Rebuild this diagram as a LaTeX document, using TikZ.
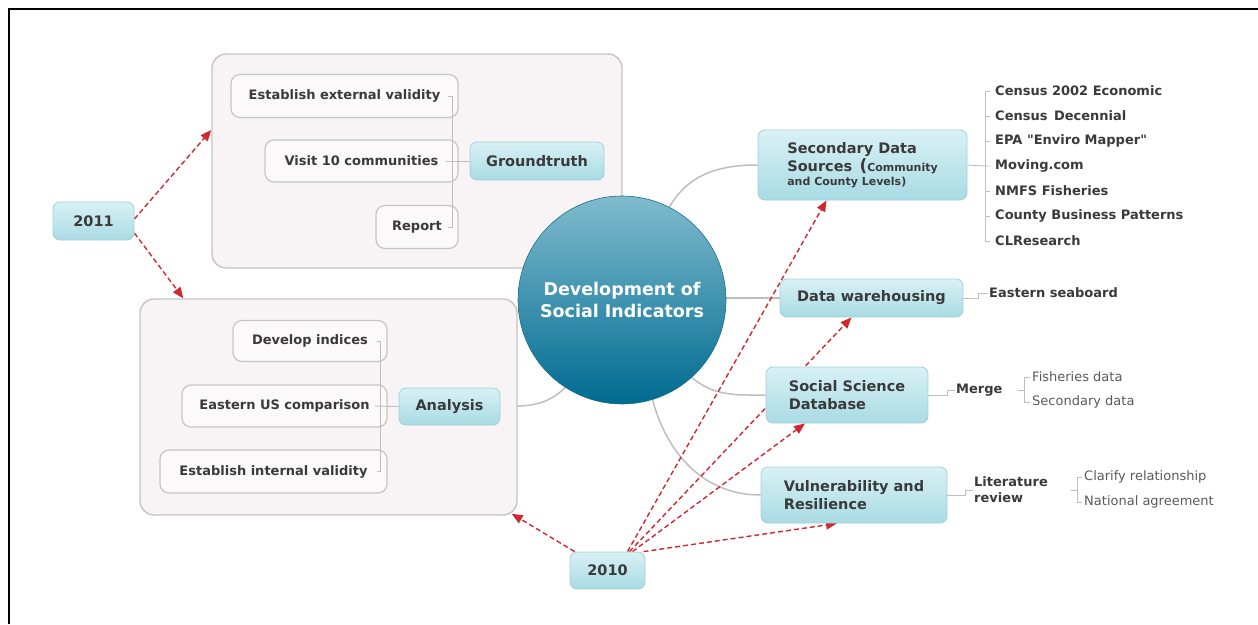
\documentclass[tikz,border=0pt]{standalone}
\usepackage{fontspec}
\setmainfont{DejaVu Sans}[Ligatures=TeXOff]
\usetikzlibrary{arrows.meta,backgrounds}

\definecolor{nodetop}{HTML}{D8F1F5}
\definecolor{nodebot}{HTML}{A9DBE4}
\definecolor{nodeline}{HTML}{A3CFD8}
\definecolor{boxfill}{HTML}{F8F4F5}
\definecolor{leaffill}{HTML}{FBF9F9}
\definecolor{boxline}{HTML}{C6C4C5}
\definecolor{branchgray}{HTML}{BEBEBE}
\definecolor{txt}{HTML}{3A3A3A}
\definecolor{lighttxt}{HTML}{5A5A5A}
\definecolor{timered}{HTML}{D0282E}
\definecolor{hubtop}{HTML}{80BBCE}
\definecolor{hubmid}{HTML}{0E799C}
\definecolor{hubbot}{HTML}{006B90}
\definecolor{hubline}{HTML}{1C6F8B}

\begin{document}
\begin{tikzpicture}[x=1pt,y=1pt,
    topic/.style={draw=nodeline,line width=0.8pt,rounded corners=7pt,top color=nodetop,bottom color=nodebot,text=txt,font=\bfseries\fontsize{14.5}{18}\selectfont,inner sep=0pt},
    group/.style={draw=boxline,line width=1.4pt,rounded corners=14pt,fill=boxfill,inner sep=0pt},
    leaf/.style={draw=boxline,line width=1.2pt,rounded corners=9pt,fill=leaffill,text=txt,font=\bfseries\fontsize{13}{15}\selectfont,inner sep=0pt},
    item/.style={anchor=west,text=txt,font=\bfseries\fontsize{13}{16}\selectfont,inner sep=1pt},
    note/.style={anchor=west,text=lighttxt,font=\fontsize{13}{15}\selectfont,inner sep=1pt},
    branch/.style={draw=branchgray,line width=1.5pt},
    bracket/.style={draw=branchgray,line width=0.9pt},
    timeline/.style={draw=timered,line width=1.4pt,dash pattern=on 5pt off 3pt,-{Triangle[length=11pt,width=9pt]}}]

    \useasboundingbox (0,0) rectangle (1258,-624);
    \draw[line width=2pt] (9,-624) -- (9,-9) -- (1258,-9);

    % groundtruth group
    \node (gtbox) at (417,-161) [group,minimum width=410pt,minimum height=214pt] {};
    \node   (ext) at (344.5,-96) [leaf,minimum width=227pt,minimum height=43pt] {Establish external validity};
    \node   (vis) at (361.5,-161) [leaf,minimum width=193pt,minimum height=42pt] {Visit 10 communities};
    \node   (rep) at (417,-227) [leaf,minimum width=82pt,minimum height=43pt] {Report};
    \node    (gt) at (537,-161) [topic,minimum width=134pt,minimum height=38pt] {Groundtruth};

    \draw[bracket] ([xshift=-11pt]ext.east) -- ([xshift=-6pt]ext.east) -- ([xshift=-6pt]rep.east) -- ([xshift=-11pt]rep.east);
    \draw[bracket] ([xshift=-13pt]vis.east) -- (gt.west);

    % analysis group
    \node (anbox) at (328.5,-407) [group,minimum width=377pt,minimum height=216pt] {};
    \node   (dev) at (310,-341) [leaf,minimum width=154pt,minimum height=41pt] {Develop indices};
    \node   (cmp) at (284.5,-406) [leaf,minimum width=205pt,minimum height=42pt] {Eastern US comparison};
    \node  (intv) at (273.5,-471.5) [leaf,minimum width=227pt,minimum height=43pt] {Establish internal validity};
    \node    (an) at (449.5,-406.5) [topic,minimum width=101pt,minimum height=37pt] {Analysis};

    \draw[bracket] ([xshift=-11pt]dev.east) -- ([xshift=-7pt]dev.east) -- ([xshift=-7pt]intv.east) -- ([xshift=-11pt]intv.east);
    \draw[bracket] ([xshift=-13pt]cmp.east) -- (an.west);

    % central topic
    \node (hub) at (622,-300) [circle,draw=hubline,line width=0.6pt,minimum size=208pt,top color=hubtop,middle color=hubmid,bottom color=hubbot,text=white,font=\bfseries\fontsize{17.5}{22}\selectfont,align=center,inner sep=0pt] {Development of\\Social Indicators};

    % right topics
    \node (sds) at (862.5,-165) [topic,minimum width=209pt,minimum height=70pt,align=left] {Secondary Data\\Sources\enspace{\fontsize{17}{17}\selectfont(}{\fontsize{11}{12}\selectfont Community}\\[-4pt]{\fontsize{11}{12}\selectfont and County Levels)}};
    \node  (dw) at (871.5,-298) [topic,minimum width=183pt,minimum height=38pt] {Data warehousing};
    \node (ssd) at (847,-395) [topic,minimum width=162pt,minimum height=56pt,align=left] {Social Science\\Database};
    \node  (vr) at (854,-495) [topic,minimum width=186pt,minimum height=56pt,align=left] {Vulnerability and\\Resilience};

    \node (src1) at (994,-91) [item] {Census 2002 Economic};
    \node (src2) at (994,-116) [item] {Census\enspace Decennial};
    \node (src3) at (994,-141) [item] {EPA "Enviro Mapper"};
    \node (src4) at (994,-166) [item] {Moving.com};
    \node (src5) at (994,-191) [item] {NMFS Fisheries};
    \node (src6) at (994,-216) [item] {County Business Patterns};
    \node (src7) at (994,-241) [item] {CLResearch};

    \node  (es) at (988,-293) [item] {Eastern seaboard};
    \node  (mg) at (955,-390) [item] {Merge};
    \node  (fd) at (1031,-377) [note] {Fisheries data};
    \node  (sd) at (1031,-402) [note] {Secondary data};
    \node (lit) at (973,-490) [item,align=left] {Literature\\review};
    \node  (cr) at (1083,-477) [note] {Clarify relationship};
    \node  (na) at (1083,-502) [note] {National agreement};

    \draw[bracket] (sds.east) -- ([xshift=-9pt]src4.west) -- ([xshift=-4pt]src4.west);
    \draw[bracket] ([xshift=-4pt]src1.west) -- ([xshift=-9pt]src1.west) -- ([xshift=-9pt]src7.west) -- ([xshift=-4pt]src7.west);
    \draw[bracket] ([xshift=-9pt]src2.west) -- ([xshift=-4pt]src2.west);
    \draw[bracket] ([xshift=-9pt]src3.west) -- ([xshift=-4pt]src3.west);
    \draw[bracket] ([xshift=-9pt]src5.west) -- ([xshift=-4pt]src5.west);
    \draw[bracket] ([xshift=-9pt]src6.west) -- ([xshift=-4pt]src6.west);

    \draw[bracket] (dw.east) -- ([xshift=-10pt]es.west |- dw.east) -- ([xshift=-10pt]es.west) -- (es.west);
    \draw[bracket] (ssd.east) -- ([xshift=-8pt]mg.west |- ssd.east) -- ([xshift=-8pt]mg.west) -- (mg.west);
    \draw[bracket] ([xshift=-1pt]fd.west) -- ([xshift=-7pt]fd.west) -- ([xshift=-7pt]sd.west) -- ([xshift=-1pt]sd.west);
    \draw[bracket] ([xshift=-13pt]fd.west |- mg.east) -- ([xshift=-7pt]fd.west |- mg.east);
    \draw[bracket] (vr.east) -- ([xshift=-8pt]lit.west |- vr.east) -- ([xshift=-8pt]lit.west) -- (lit.west);
    \draw[bracket] ([xshift=-1pt]cr.west) -- ([xshift=-6pt]cr.west) -- ([xshift=-6pt]na.west) -- ([xshift=-1pt]na.west);
    \draw[bracket] ([xshift=-12pt]cr.west |- lit.east) -- ([xshift=-6pt]cr.west |- lit.east);

    % years
    \node (y2011) at (93.5,-221) [topic,minimum width=81pt,minimum height=38pt] {2011};
    \node (y2010) at (607.5,-570.5) [topic,minimum width=75pt,minimum height=37pt] {2010};

    \begin{pgfonlayer}{background}
    \draw[branch] (gt.east) to[out=0,in=90] (hub.95);
    \draw[branch] (an.east) to[out=0,in=225] (hub.237);
    \draw[branch] (hub.63) to[out=60,in=180] (sds.west);
    \draw[branch] (hub.east |- dw.west) -- (dw.west);
    \draw[branch] (hub.-48) to[out=-40,in=180] (ssd.west);
    \draw[branch] (hub.-73) to[out=-75,in=180] (vr.west);

    \draw[timeline] ([yshift=2pt]y2011.east) -- ([yshift=31pt]gtbox.west);
    \draw[timeline] ([yshift=-12pt]y2011.east) -- ([xshift=44pt]anbox.north west);
    \draw[timeline] ([xshift=5pt]y2010.north west) -- ([xshift=-6pt,yshift=2pt]anbox.south east);
    \draw[timeline] ([xshift=20pt]y2010.north) -- ([xshift=-36pt]sds.south);
    \draw[timeline] ([xshift=22pt]y2010.north) -- ([xshift=-20pt]dw.south);
    \draw[timeline] ([xshift=25pt]y2010.north) -- ([xshift=-42pt]ssd.south);
    \draw[timeline] ([xshift=36pt]y2010.north) -- ([xshift=-17pt]vr.south);
    \end{pgfonlayer}

\end{tikzpicture}
\end{document}
